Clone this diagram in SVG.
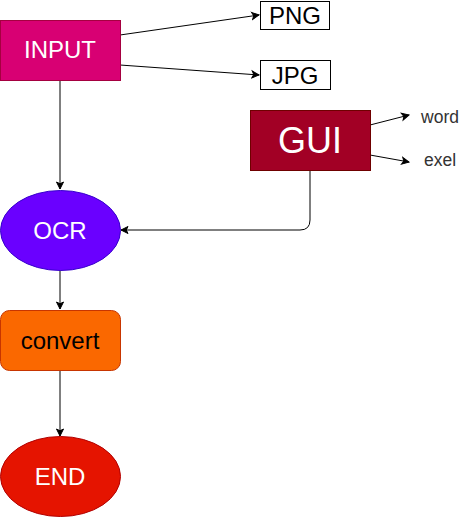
<svg xmlns="http://www.w3.org/2000/svg" width="472" height="518" viewBox="0 0 472 518">
<style>
text{font-family:"Liberation Sans",Arial,sans-serif;text-anchor:middle;dominant-baseline:central}
.w{fill:#fff}
.e{fill:none;stroke:#000;stroke-width:1}
</style>
<defs>
<marker id="a" markerWidth="10" markerHeight="10" refX="8" refY="5" orient="auto" markerUnits="userSpaceOnUse">
<path d="M1,1.5 L8,5 L1,8.5 L2.75,5 Z" fill="#000" stroke="#000" stroke-width="1"/>
</marker>
</defs>
<g id="connectors">
<path class="e" d="M120,35 L259,15" marker-end="url(#a)"/>
<path class="e" d="M120,65 L259,75" marker-end="url(#a)"/>
<path class="e" d="M370,125 L409,115" marker-end="url(#a)"/>
<path class="e" d="M370,155 L409,162" marker-end="url(#a)"/>
<path class="e" d="M60,80 L60,189" marker-end="url(#a)"/>
<path class="e" d="M310,170 L310,220 Q310,230 300,230 L121,230" marker-end="url(#a)"/>
<path class="e" d="M60,270 L60,309" marker-end="url(#a)"/>
<path class="e" d="M60,370 L60,436" marker-end="url(#a)"/>
</g>
<g id="input">
<rect x="0.5" y="20.5" width="120" height="60" fill="#d80073" stroke="#a50040"/>
<text class="w" x="60" y="49.5" font-size="24">INPUT</text>
</g>
<g id="png">
<rect x="260.5" y="1.5" width="69" height="28" fill="#fff" stroke="#000"/>
<text x="295" y="15.5" font-size="24">PNG</text>
</g>
<g id="jpg">
<rect x="260.5" y="60.5" width="70" height="29" fill="#fff" stroke="#000"/>
<text x="295" y="75" font-size="24">JPG</text>
</g>
<g id="gui">
<rect x="250.5" y="110.5" width="120" height="60" fill="#a20025" stroke="#6f0000"/>
<text class="w" x="310" y="140" font-size="36">GUI</text>
</g>
<g id="word"><text x="440" y="117" font-size="17.5" fill="#333">word</text></g>
<g id="exel"><text x="440" y="160" font-size="17.5" fill="#333">exel</text></g>
<g id="ocr">
<ellipse cx="60.5" cy="230.5" rx="60" ry="40" fill="#6a00ff" stroke="#3700cc"/>
<text class="w" x="60" y="230" font-size="24">OCR</text>
</g>
<g id="convert">
<rect x="0.5" y="310.5" width="120" height="60" rx="9" fill="#fa6800" stroke="#c73500"/>
<text x="60" y="340" font-size="24" fill="#000">convert</text>
</g>
<g id="end">
<ellipse cx="60.5" cy="476.5" rx="60" ry="40" fill="#e51400" stroke="#b20000"/>
<text class="w" x="60" y="476" font-size="24">END</text>
</g>
</svg>
